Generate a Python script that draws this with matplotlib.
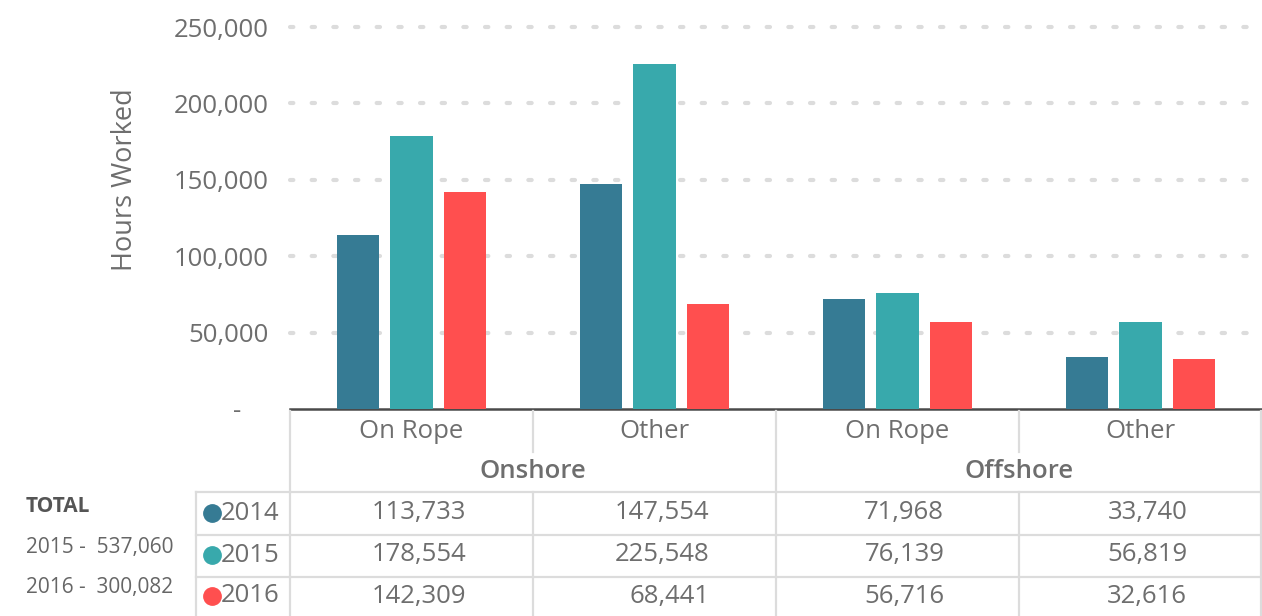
import matplotlib.pyplot as plt
from matplotlib.lines import Line2D

# ---------------------------------------------------------------
# data
# ---------------------------------------------------------------
years = ["2014", "2015", "2016"]
categories = ["On Rope", "Other", "On Rope", "Other"]
groups = ["Onshore", "Offshore"]
hours_2014 = [113733, 147554, 71968, 33740]
hours_2015 = [178554, 225548, 76139, 56819]
hours_2016 = [142309, 68441, 56716, 32616]
totals_text = ["2015 -  537,060", "2016 -  300,082"]
yticks = [0, 50000, 100000, 150000, 200000, 250000]

colors = ["#367b94", "#38a9ac", "#ff4f4f"]
series = [hours_2014, hours_2015, hours_2016]

TXT = "#6e6e6e"
GRID = "#dcdcdc"
FS = 18.5
plt.rcParams["font.family"] = ["Open Sans", "DejaVu Sans"]

W, H = 1262, 616
fig = plt.figure(figsize=(W / 100, H / 100), dpi=100)

# pixel-space helpers
def fx(px):
    return px / W

def fy(py):
    return 1 - py / H

ax_left, ax_right, ax_top, ax_bot = 290, 1262, 27, 409
ax = fig.add_axes([fx(ax_left), fy(ax_bot), fx(ax_right - ax_left), (ax_bot - ax_top) / H])

n = len(categories)
x = list(range(n))
bar_w = 0.173
step = 0.22
for i, (vals, c) in enumerate(zip(series, colors)):
    ax.bar([xi + (i - 1) * step for xi in x], vals, width=bar_w, color=c, zorder=3)

ax.set_xlim(-0.5, n - 0.5)
ax.set_ylim(0, 250000)
ax.set_yticks(yticks)
ax.set_yticklabels(["-    " if v == 0 else f"{v:,}" for v in yticks])
ax.tick_params(axis="y", length=0, pad=15.5, labelsize=FS, labelcolor=TXT)
ax.set_xticks([])
for s in ["top", "right", "left"]:
    ax.spines[s].set_visible(False)
ax.spines["bottom"].set_color("#4a4a4a")
ax.spines["bottom"].set_linewidth(1.8)
for v in yticks[1:]:
    ax.axhline(v, color=GRID, lw=3, linestyle=(0, (0.8, 4.4)),
               dash_capstyle="round", zorder=1, clip_on=False)

fig.text(fx(125), fy(180), "Hours Worked", rotation=90, ha="center", va="center",
         fontsize=FS + 1, color=TXT)

# ---------------------------------------------------------------
# table below the chart (pixel layout)
# ---------------------------------------------------------------
col_w = (ax_right - ax_left) / n
col_edges = [ax_left + i * col_w for i in range(n + 1)]
col_centers = [ax_left + (i + 0.5) * col_w for i in range(n)]
lab_left = 196
row_lines = [492, 535, 577]
row_centers = [513, 555, 596]

def hline(y, x0, x1):
    fig.add_artist(Line2D([fx(x0), fx(x1)], [fy(y), fy(y)], color=GRID, lw=1.6))

def vline(x0, y0, y1):
    fig.add_artist(Line2D([fx(x0), fx(x0)], [fy(y0), fy(y1)], color=GRID, lw=1.6))

for y in row_lines:
    hline(y, lab_left, ax_right)
vline(lab_left, row_lines[0], H)
for i, e in enumerate(col_edges[:-1]):
    if i % 2 == 0:
        vline(e, ax_bot + 2, H)
    else:
        vline(e, ax_bot + 2, 452)
        vline(e, row_lines[0], H)
vline(ax_right - 1, ax_bot + 2, H)

for cx, lab in zip(col_centers, categories):
    fig.text(fx(cx), fy(431), lab, ha="center", va="center", fontsize=FS, color=TXT)
for g, lab in enumerate(groups):
    gx = (col_centers[2 * g] + col_centers[2 * g + 1]) / 2
    fig.text(fx(gx), fy(472), lab, ha="center", va="center", fontsize=FS,
             fontweight="semibold", color=TXT)

for r, (yr, vals, c) in enumerate(zip(years, series, colors)):
    yc = row_centers[r]
    fig.add_artist(Line2D([fx(212)], [fy(yc)], marker="o", markersize=12.5,
                          color=c, lw=0))
    fig.text(fx(221), fy(yc), yr, ha="left", va="center", fontsize=FS, color=TXT)
    for j, v in enumerate(vals):
        maxlen = max(len(f"{s[j]:,}") for s in series)
        fig.text(fx(col_centers[j] + 7.8 * maxlen), fy(yc), f"{v:,}", ha="right",
                 va="center", fontsize=FS, color=TXT)

fig.text(fx(26), fy(507), "TOTAL", ha="left", va="center", fontsize=15,
         fontweight="bold", color="#555555")
for t, yy in zip(totals_text, [548, 587]):
    fig.text(fx(26), fy(yy), t, ha="left", va="center", fontsize=15, color="#666666")

fig.savefig("out.png", dpi=100)
